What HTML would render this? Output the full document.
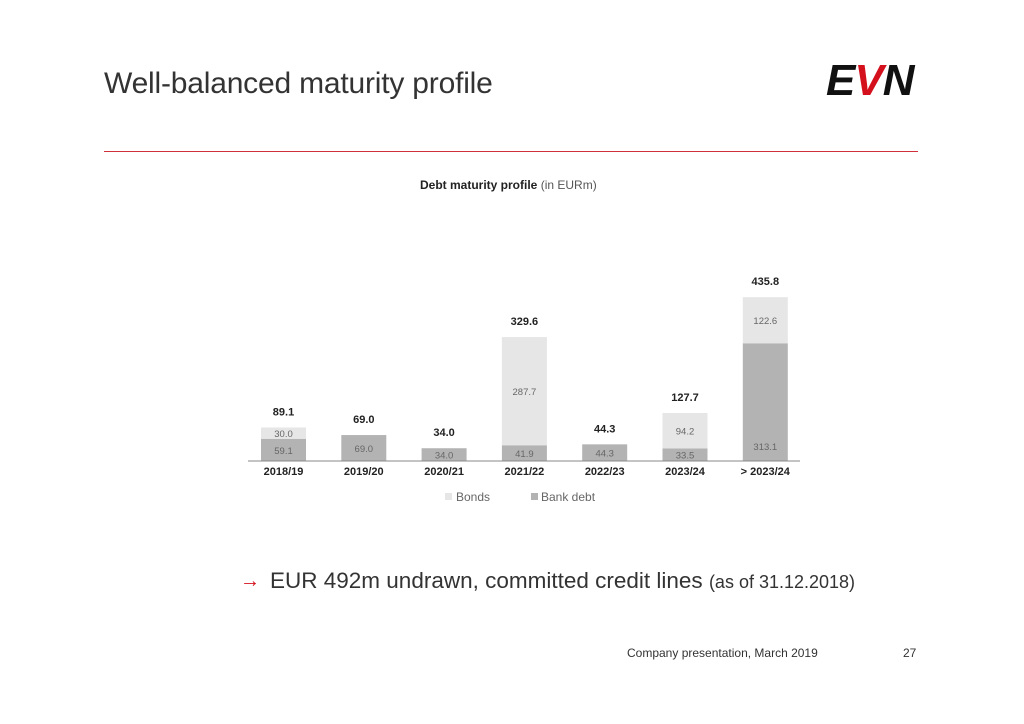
<!DOCTYPE html>
<html><head><style>
body{margin:0;width:1024px;height:724px;background:#fff;font-family:"Liberation Sans",sans-serif;position:relative;overflow:hidden}
.a{position:absolute}
</style></head><body>
<div class="a" style="left:104px;top:67px;font-size:30px;color:#333;letter-spacing:-0.2px">Well-balanced maturity profile</div>
<div class="a" style="left:826px;top:56px;font-size:44px;font-weight:bold;font-style:italic;letter-spacing:-1px;color:#111">E<span style="color:#d4101d">V</span>N</div>
<div class="a" style="left:104px;top:151px;width:814px;height:1px;background:#d0303a"></div>
<div class="a" style="left:420px;top:178px;font-size:12px;color:#222"><b>Debt maturity profile</b> <span style="color:#555">(in EURm)</span></div>
<svg class="a" style="left:0;top:0" width="1024" height="724" font-family="Liberation Sans, sans-serif">
<g id="bars"></g>
<line x1="248" y1="461" x2="800" y2="461" stroke="#888" stroke-width="1"/>
<rect x="445" y="493" width="7" height="7" fill="#e6e6e6"/><text x="456" y="501" font-size="12" fill="#666">Bonds</text>
<rect x="531" y="493" width="7" height="7" fill="#b3b3b3"/><text x="541" y="501" font-size="12" fill="#666">Bank debt</text>
</svg>
<script>
var d=[["2018/19",59.1,30.0,"89.1"],["2019/20",69.0,0,"69.0"],["2020/21",34.0,0,"34.0"],["2021/22",41.9,287.7,"329.6"],["2022/23",44.3,0,"44.3"],["2023/24",33.5,94.2,"127.7"],["> 2023/24",313.1,122.6,"435.8"]];
var s=0.376,b=461,h="";
d.forEach(function(r,i){var x=261+i*80.3,cx=x+22.5,hb=r[1]*s,hn=r[2]*s;
h+='<rect x="'+x+'" y="'+(b-hb)+'" width="45" height="'+hb+'" fill="#b3b3b3"/>';
h+='<text x="'+cx+'" y="'+(b-Math.min(hb,30)/2+4)+'" font-size="9.5" fill="#666" text-anchor="middle">'+r[1].toFixed(1)+'</text>';
if(hn){h+='<rect x="'+x+'" y="'+(b-hb-hn)+'" width="45" height="'+hn+'" fill="#e6e6e6"/>';
var ly=hn>60?(b-hb-hn+ (i==6?28:hn/2+4)):(b-hb-hn/2+4);
h+='<text x="'+cx+'" y="'+ly+'" font-size="9.5" fill="#666" text-anchor="middle">'+r[2].toFixed(1)+'</text>';}
h+='<text x="'+cx+'" y="'+(b-hb-hn-12)+'" font-size="11" font-weight="bold" fill="#222" text-anchor="middle">'+r[3]+'</text>';
h+='<text x="'+cx+'" y="475" font-size="11" font-weight="bold" fill="#222" text-anchor="middle">'+r[0]+'</text>';});
document.getElementById("bars").innerHTML=h;
</script>
<div class="a" style="left:240px;top:570px;font-size:20px;color:#d4101d">→</div>
<div class="a" style="left:270px;top:568px;font-size:22.5px;color:#333">EUR 492m undrawn, committed credit lines <span style="font-size:18px">(as of 31.12.2018)</span></div>
<div class="a" style="left:627px;top:646px;font-size:12px;color:#333">Company presentation, March 2019</div>
<div class="a" style="left:903px;top:646px;font-size:12px;color:#333">27</div>
</body></html>
